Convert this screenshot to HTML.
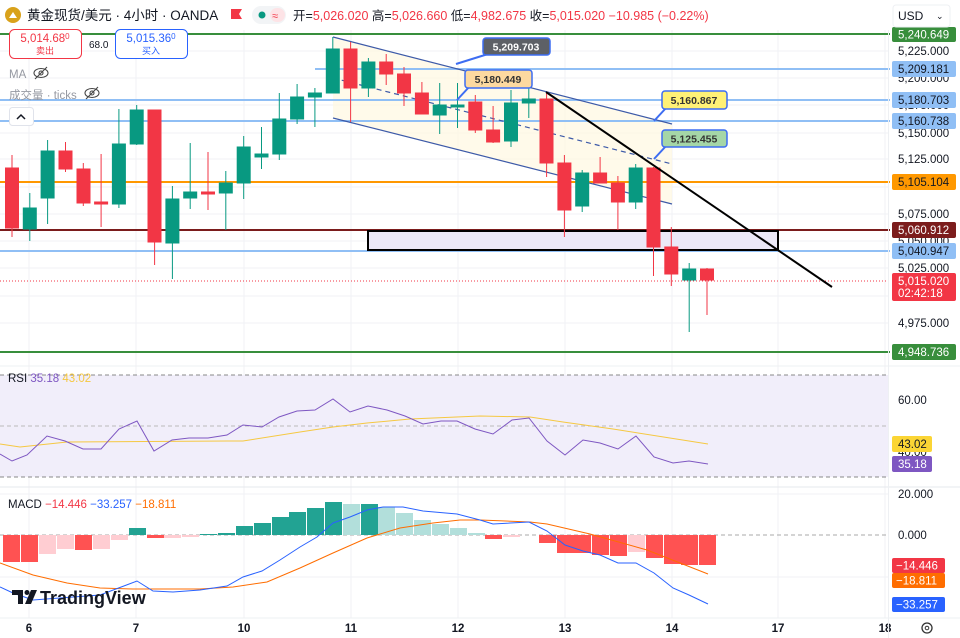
<!DOCTYPE html>
<html><head><meta charset="utf-8"><style>
body{margin:0;background:#fff;width:960px;height:638px;overflow:hidden;font-family:"Liberation Sans","Noto Sans CJK SC",sans-serif}
svg{display:block}
text{font-family:"Liberation Sans","Noto Sans CJK SC",sans-serif}
</style></head><body>
<svg width="960" height="638" viewBox="0 0 960 638" xmlns="http://www.w3.org/2000/svg">
<!-- grid -->
<g stroke="#f0f2f5" stroke-width="1">
<line x1="29" y1="30" x2="29" y2="618"/><line x1="136" y1="30" x2="136" y2="618"/><line x1="244" y1="30" x2="244" y2="618"/><line x1="351" y1="30" x2="351" y2="618"/><line x1="458" y1="30" x2="458" y2="618"/><line x1="565" y1="30" x2="565" y2="618"/><line x1="672" y1="30" x2="672" y2="618"/><line x1="778" y1="30" x2="778" y2="618"/><line x1="885" y1="30" x2="885" y2="618"/>
<line x1="0" y1="51" x2="888" y2="51"/><line x1="0" y1="78" x2="888" y2="78"/><line x1="0" y1="105" x2="888" y2="105"/><line x1="0" y1="133" x2="888" y2="133"/><line x1="0" y1="159" x2="888" y2="159"/><line x1="0" y1="187" x2="888" y2="187"/><line x1="0" y1="214" x2="888" y2="214"/><line x1="0" y1="241" x2="888" y2="241"/><line x1="0" y1="268" x2="888" y2="268"/><line x1="0" y1="296" x2="888" y2="296"/><line x1="0" y1="323" x2="888" y2="323"/>
<line x1="0" y1="400" x2="888" y2="400"/><line x1="0" y1="452" x2="888" y2="452"/><line x1="0" y1="494" x2="888" y2="494"/><line x1="0" y1="577" x2="888" y2="577"/>
</g>
<!-- channel fill -->
<polygon points="333,37 672,124 672,204 333,118" fill="#fff8e1" opacity="0.7"/>
<!-- horizontal levels -->
<line x1="0" y1="34" x2="890" y2="34" stroke="#388e3c" stroke-width="2"/>
<line x1="315" y1="69" x2="890" y2="69" stroke="#90bff5" stroke-width="2"/>
<line x1="0" y1="100" x2="890" y2="100" stroke="#90bff5" stroke-width="2"/>
<line x1="0" y1="121" x2="890" y2="121" stroke="#90bff5" stroke-width="2"/>
<line x1="0" y1="182" x2="890" y2="182" stroke="#ff9800" stroke-width="2"/>
<line x1="0" y1="230" x2="890" y2="230" stroke="#7b1c1c" stroke-width="2"/>
<line x1="0" y1="251" x2="890" y2="251" stroke="#90bff5" stroke-width="2"/>
<line x1="0" y1="281" x2="890" y2="281" stroke="#f23645" stroke-width="1" stroke-dasharray="1,2"/>
<line x1="0" y1="352" x2="890" y2="352" stroke="#388e3c" stroke-width="2"/>
<!-- rectangle -->
<rect x="368" y="231" width="410" height="19" fill="#ebe8f7" stroke="#000" stroke-width="2"/>
<!-- channel lines -->
<line x1="333" y1="37" x2="672" y2="124" stroke="#3d5aa8" stroke-width="1.2"/>
<line x1="333" y1="118" x2="672" y2="204" stroke="#3d5aa8" stroke-width="1.2"/>
<line x1="333" y1="78" x2="672" y2="164" stroke="#3d5aa8" stroke-width="1.2" stroke-dasharray="5,4"/>
<!-- candles -->
<g stroke-width="1">
<g fill="#f23645" stroke="#f23645">
<line x1="12" y1="155" x2="12" y2="237"/><rect x="5.5" y="168" width="13" height="60"/>
<line x1="65.5" y1="142" x2="65.5" y2="172"/><rect x="59" y="151" width="13" height="18"/>
<line x1="83.3" y1="163" x2="83.3" y2="206"/><rect x="77" y="169" width="13" height="34"/>
<line x1="101.1" y1="154" x2="101.1" y2="227"/><rect x="94.6" y="202" width="13" height="2"/>
<line x1="154.6" y1="110" x2="154.6" y2="265"/><rect x="148" y="110" width="13" height="132"/>
<line x1="208" y1="152" x2="208" y2="210"/><rect x="201.5" y="192" width="13" height="2"/>
<line x1="350.6" y1="42" x2="350.6" y2="122"/><rect x="344" y="49" width="13" height="39"/>
<line x1="386.2" y1="54" x2="386.2" y2="85"/><rect x="379.7" y="62" width="13" height="12"/>
<line x1="404" y1="67" x2="404" y2="106"/><rect x="397.5" y="74" width="13" height="19"/>
<line x1="421.9" y1="82" x2="421.9" y2="114"/><rect x="415.4" y="93" width="13" height="21"/>
<line x1="475.3" y1="95" x2="475.3" y2="133"/><rect x="468.8" y="102" width="13" height="28"/>
<line x1="493.1" y1="106" x2="493.1" y2="143"/><rect x="486.6" y="130" width="13" height="12"/>
<line x1="546.6" y1="92" x2="546.6" y2="177"/><rect x="540" y="99" width="13" height="64"/>
<line x1="564.4" y1="155" x2="564.4" y2="237"/><rect x="557.9" y="163" width="13" height="47"/>
<line x1="600.1" y1="157" x2="600.1" y2="183"/><rect x="593.6" y="173" width="13" height="10"/>
<line x1="617.9" y1="176" x2="617.9" y2="230"/><rect x="611.4" y="183" width="13" height="19"/>
<line x1="653.5" y1="167" x2="653.5" y2="276"/><rect x="647" y="168" width="13" height="79"/>
<line x1="671.3" y1="227" x2="671.3" y2="286"/><rect x="664.8" y="247" width="13" height="27"/>
<line x1="707" y1="268" x2="707" y2="315"/><rect x="700.5" y="269" width="13" height="11"/>
</g>
<g fill="#089981" stroke="#089981">
<line x1="29.8" y1="193" x2="29.8" y2="241"/><rect x="23.3" y="208" width="13" height="21"/>
<line x1="47.6" y1="140" x2="47.6" y2="224"/><rect x="41.1" y="151" width="13" height="47"/>
<line x1="118.9" y1="109" x2="118.9" y2="208"/><rect x="112.4" y="144" width="13" height="60"/>
<line x1="136.7" y1="105" x2="136.7" y2="145"/><rect x="130.2" y="110" width="13" height="34"/>
<line x1="172.4" y1="186" x2="172.4" y2="279"/><rect x="165.9" y="199" width="13" height="44"/>
<line x1="190.2" y1="143" x2="190.2" y2="209"/><rect x="183.7" y="192" width="13" height="6"/>
<line x1="225.8" y1="171" x2="225.8" y2="230"/><rect x="219.3" y="183" width="13" height="10"/>
<line x1="243.7" y1="136" x2="243.7" y2="199"/><rect x="237.2" y="147" width="13" height="36"/>
<line x1="261.5" y1="127" x2="261.5" y2="169"/><rect x="255" y="154" width="13" height="3"/>
<line x1="279.3" y1="93" x2="279.3" y2="160"/><rect x="272.8" y="119" width="13" height="35"/>
<line x1="297.1" y1="84" x2="297.1" y2="124"/><rect x="290.6" y="97" width="13" height="22"/>
<line x1="314.9" y1="88" x2="314.9" y2="127"/><rect x="308.4" y="93" width="13" height="4"/>
<line x1="332.8" y1="37" x2="332.8" y2="93"/><rect x="326.3" y="49" width="13" height="44"/>
<line x1="368.4" y1="58" x2="368.4" y2="97"/><rect x="361.9" y="62" width="13" height="26"/>
<line x1="439.7" y1="83" x2="439.7" y2="134"/><rect x="433.2" y="105" width="13" height="10"/>
<line x1="457.5" y1="83" x2="457.5" y2="128"/><rect x="451" y="105" width="13" height="2"/>
<line x1="511" y1="90" x2="511" y2="147"/><rect x="504.5" y="103" width="13" height="38"/>
<line x1="528.8" y1="87" x2="528.8" y2="118"/><rect x="522.3" y="99" width="13" height="4"/>
<line x1="582.2" y1="170" x2="582.2" y2="212"/><rect x="575.7" y="173" width="13" height="33"/>
<line x1="635.7" y1="164" x2="635.7" y2="209"/><rect x="629.2" y="168" width="13" height="34"/>
<line x1="689.2" y1="263" x2="689.2" y2="332"/><rect x="682.7" y="269" width="13" height="11"/>
</g>
</g>
<!-- black trend line -->
<line x1="546" y1="92" x2="832" y2="287" stroke="#000" stroke-width="2"/>
<!-- callouts -->
<g font-size="10.5" font-weight="bold" text-anchor="middle">
<path d="M488,54 L456,64" stroke="#3d6df2" stroke-width="2"/>
<rect x="483" y="38" width="67" height="17" rx="3" fill="#5d6066" stroke="#3d6df2" stroke-width="1.5"/>
<text x="516" y="50.5" fill="#fff">5,209.703</text>
<path d="M470,86 L457,100" stroke="#3d6df2" stroke-width="2"/>
<rect x="465" y="70" width="67" height="18" rx="3" fill="#fcd9a0" stroke="#3d6df2" stroke-width="1.5"/>
<text x="498" y="83" fill="#333">5,180.449</text>
<path d="M666,108 L654,121" stroke="#3d6df2" stroke-width="2"/>
<rect x="662" y="91" width="65" height="18" rx="3" fill="#fff176" stroke="#3d6df2" stroke-width="1.5"/>
<text x="694" y="104" fill="#333">5,160.867</text>
<path d="M666,146 L654,159" stroke="#3d6df2" stroke-width="2"/>
<rect x="662" y="130" width="65" height="17" rx="3" fill="#a5d6a7" stroke="#3d6df2" stroke-width="1.5"/>
<text x="694" y="142.5" fill="#333">5,125.455</text>
</g>
<!-- RSI panel -->
<line x1="0" y1="366" x2="960" y2="366" stroke="#eef0f3"/>
<rect x="0" y="375" width="888" height="102" fill="#f1eefa"/>
<line x1="0" y1="375" x2="888" y2="375" stroke="#888" stroke-dasharray="4,3"/>
<line x1="0" y1="426" x2="888" y2="426" stroke="#bbb" stroke-dasharray="4,3"/>
<line x1="0" y1="477" x2="888" y2="477" stroke="#888" stroke-dasharray="4,3"/>
<polyline fill="none" stroke="#f5c842" stroke-width="1" points="0,444 20,447 67,442 227,441 243,441 300,432 333,427 367,423 410,419 480,416 530,417 563,422 613,429 708,444"/>
<polyline fill="none" stroke="#7e57c2" stroke-width="1" points="0,454 12,461 27,455 47,436 65,441 83,449 101,449 119,429 137,421 154,451 172,440 189,438 208,438 227,435 243,425 262,427 279,417 297,411 315,410 333,399 350,412 368,406 387,410 405,416 423,424 441,421 457,421 475,429 493,434 512,420 529,418 547,441 565,455 583,440 600,443 618,449 636,436 654,457 673,463 689,461 708,464"/>
<line x1="0" y1="487" x2="960" y2="487" stroke="#e6e8ec"/>
<!-- MACD -->
<line x1="0" y1="535" x2="888" y2="535" stroke="#aaa" stroke-dasharray="4,3"/>
<g>
<rect x="3" y="535" width="17" height="27" fill="#ff5252"/>
<rect x="21" y="535" width="17" height="27" fill="#ff5252"/>
<rect x="39" y="535" width="17" height="19" fill="#ffcdd2"/>
<rect x="57" y="535" width="17" height="14" fill="#ffcdd2"/>
<rect x="75" y="535" width="17" height="15" fill="#ff5252"/>
<rect x="93" y="535" width="17" height="14" fill="#ffcdd2"/>
<rect x="111" y="535" width="17" height="5" fill="#ffcdd2"/>
<rect x="129" y="528" width="17" height="7" fill="#22a393"/>
<rect x="147" y="535" width="17" height="3" fill="#ff5252"/>
<rect x="164" y="535" width="17" height="3" fill="#ffcdd2"/>
<rect x="182" y="535" width="17" height="2" fill="#ffcdd2"/>
<rect x="200" y="534" width="17" height="1" fill="#22a393"/>
<rect x="218" y="533" width="17" height="2" fill="#22a393"/>
<rect x="236" y="526" width="17" height="9" fill="#22a393"/>
<rect x="254" y="523" width="17" height="12" fill="#22a393"/>
<rect x="272" y="517" width="17" height="18" fill="#22a393"/>
<rect x="289" y="512" width="17" height="23" fill="#22a393"/>
<rect x="307" y="508" width="17" height="27" fill="#22a393"/>
<rect x="325" y="502" width="17" height="33" fill="#22a393"/>
<rect x="343" y="504" width="17" height="31" fill="#b2dfdb"/>
<rect x="361" y="504" width="17" height="31" fill="#22a393"/>
<rect x="378" y="507" width="17" height="28" fill="#b2dfdb"/>
<rect x="396" y="513" width="17" height="22" fill="#b2dfdb"/>
<rect x="414" y="520" width="17" height="15" fill="#b2dfdb"/>
<rect x="432" y="524" width="17" height="11" fill="#b2dfdb"/>
<rect x="450" y="528" width="17" height="7" fill="#b2dfdb"/>
<rect x="468" y="533" width="17" height="2" fill="#b2dfdb"/>
<rect x="485" y="535" width="17" height="4" fill="#ff5252"/>
<rect x="503" y="535" width="17" height="2" fill="#ffcdd2"/>
<rect x="539" y="535" width="17" height="8" fill="#ff5252"/>
<rect x="557" y="535" width="17" height="18" fill="#ff5252"/>
<rect x="574" y="535" width="17" height="18" fill="#ff5252"/>
<rect x="592" y="535" width="17" height="20" fill="#ff5252"/>
<rect x="610" y="535" width="17" height="21" fill="#ff5252"/>
<rect x="628" y="535" width="17" height="17" fill="#ffcdd2"/>
<rect x="646" y="535" width="17" height="23" fill="#ff5252"/>
<rect x="664" y="535" width="17" height="29" fill="#ff5252"/>
<rect x="681" y="535" width="17" height="30" fill="#ff5252"/>
<rect x="699" y="535" width="17" height="30" fill="#ff5252"/>
</g>
<polyline fill="none" stroke="#ff6d00" stroke-width="1" points="0,563 33,575 67,583 100,588 133,589 200,589 233,587 267,582 300,568 333,553 367,538 400,528 433,523 460,520 480,520 530,522 547,524 590,534 647,550 708,574"/>
<polyline fill="none" stroke="#2962ff" stroke-width="1" points="0,587 13,593 33,600 100,595 137,581 153,591 173,592 200,590 227,586 243,577 262,571 280,560 300,547 317,537 333,523 350,517 367,510 383,507 403,507 423,511 457,514 480,520 493,524 529,522 547,531 565,545 583,551 600,555 618,563 636,563 654,573 673,588 689,595 708,604"/>
<!-- TradingView logo -->
<g fill="#131722">
<path d="M12,590 h11 v14 h-5 v-9 h-6 z"/>
<circle cx="27" cy="592.5" r="2.5"/>
<path d="M31,590 h6 l-6,14 h-6 z"/>
</g>
<text x="40" y="604" font-size="18" font-weight="bold" fill="#131722">TradingView</text>
<!-- x axis -->
<line x1="0" y1="618" x2="960" y2="618" stroke="#eef0f3"/>
<g font-size="11.5" fill="#131722" text-anchor="middle" font-weight="bold">
<text x="29" y="632">6</text><text x="136" y="632">7</text><text x="244" y="632">10</text><text x="351" y="632">11</text><text x="458" y="632">12</text><text x="565" y="632">13</text><text x="672" y="632">14</text><text x="778" y="632">17</text><text x="885" y="632">18</text>
</g>
<circle cx="927" cy="628" r="5" fill="none" stroke="#333" stroke-width="1.3"/><circle cx="927" cy="628" r="1.8" fill="none" stroke="#333"/>
<!-- right axis -->
<line x1="888.5" y1="30" x2="888.5" y2="638" stroke="#eef0f3"/>
<g font-size="11.5" fill="#131722">
<text x="898" y="55">5,225.000</text><text x="898" y="82">5,200.000</text><text x="898" y="109">5,175.000</text><text x="898" y="137">5,150.000</text><text x="898" y="163">5,125.000</text><text x="898" y="218">5,075.000</text><text x="898" y="245">5,050.000</text><text x="898" y="272">5,025.000</text><text x="898" y="327">4,975.000</text>
<text x="898" y="404">60.00</text><text x="898" y="456">40.00</text><text x="898" y="498">20.000</text><text x="898" y="539">0.000</text>
</g>
<g font-size="11.5">
<rect x="892" y="27" width="64" height="15" rx="2" fill="#388e3c"/><text x="898" y="38.5" fill="#fff">5,240.649</text>
<rect x="892" y="61" width="64" height="16" rx="2" fill="#90bff5"/><text x="898" y="73" fill="#131722">5,209.181</text>
<rect x="892" y="92" width="64" height="16" rx="2" fill="#90bff5"/><text x="898" y="104" fill="#131722">5,180.703</text>
<rect x="892" y="113" width="64" height="16" rx="2" fill="#90bff5"/><text x="898" y="125" fill="#131722">5,160.738</text>
<rect x="892" y="174" width="64" height="16" rx="2" fill="#ff9800"/><text x="898" y="186" fill="#131722">5,105.104</text>
<rect x="892" y="222" width="64" height="16" rx="2" fill="#7b1c1c"/><text x="898" y="234" fill="#fff">5,060.912</text>
<rect x="892" y="243" width="64" height="16" rx="2" fill="#90bff5"/><text x="898" y="255" fill="#131722">5,040.947</text>
<rect x="892" y="273" width="64" height="28" rx="2" fill="#f23645"/><text x="898" y="285" fill="#fff">5,015.020</text><text x="898" y="297" fill="#fff">02:42:18</text>
<rect x="892" y="344" width="64" height="16" rx="2" fill="#388e3c"/><text x="898" y="356" fill="#fff">4,948.736</text>
<rect x="892" y="436" width="40" height="16" rx="2" fill="#fbd535"/><text x="898" y="448" fill="#131722">43.02</text>
<rect x="892" y="456" width="40" height="16" rx="2" fill="#7e57c2"/><text x="898" y="468" fill="#fff">35.18</text>
<rect x="892" y="558" width="53" height="15" rx="2" fill="#f23645"/><text x="896" y="569.5" fill="#fff">−14.446</text>
<rect x="892" y="573" width="53" height="15" rx="2" fill="#ff6d00"/><text x="896" y="584.5" fill="#fff">−18.811</text>
<rect x="892" y="597" width="53" height="15" rx="2" fill="#2962ff"/><text x="896" y="608.5" fill="#fff">−33.257</text>
</g>
<!-- header -->
<rect x="0" y="0" width="888" height="28" fill="#fff"/>
<circle cx="13" cy="15" r="8" fill="#d9a21b"/><path d="M9,18 l4,-6 l4,6 z" fill="#fff"/>
<text x="27" y="20" font-size="13.5" fill="#131722">黄金现货/美元 · 4小时 · OANDA</text>
<path d="M231,9 h11 l-3,5 l3,5 h-11 z" fill="#f23645"/>
<rect x="252" y="6" width="34" height="18" rx="9" fill="#f2f4f6"/>
<circle cx="262" cy="15" r="3.5" fill="#089981"/>
<rect x="270" y="8" width="15" height="14" rx="7" fill="#fde3e6"/><text x="272" y="19.5" font-size="11" fill="#f23645">≈</text>
<text x="293" y="20" font-size="12.5" fill="#131722">开=<tspan fill="#f23645">5,026.020</tspan> 高=<tspan fill="#f23645">5,026.660</tspan> 低=<tspan fill="#f23645">4,982.675</tspan> 收=<tspan fill="#f23645">5,015.020</tspan> <tspan fill="#f23645">−10.985 (−0.22%)</tspan></text>
<rect x="893" y="5" width="57" height="22" rx="3" fill="#fff" stroke="#eef0f3"/>
<text x="898" y="20" font-size="12" fill="#131722">USD</text><text x="936" y="19" font-size="9" fill="#131722">⌄</text>
<!-- buy/sell -->
<rect x="9.5" y="29.5" width="72" height="29" rx="5" fill="#fff" stroke="#f23645"/>
<text x="45" y="42" font-size="11.5" fill="#f23645" text-anchor="middle">5,014.68<tspan font-size="8" dy="-3">0</tspan></text>
<text x="45" y="54" font-size="9" fill="#f23645" text-anchor="middle">卖出</text>
<text x="89" y="48" font-size="10" fill="#131722">68.0</text>
<rect x="115.5" y="29.5" width="72" height="29" rx="5" fill="#fff" stroke="#2962ff"/>
<text x="151" y="42" font-size="11.5" fill="#2962ff" text-anchor="middle">5,015.36<tspan font-size="8" dy="-3">0</tspan></text>
<text x="151" y="54" font-size="9" fill="#2962ff" text-anchor="middle">买入</text>
<text x="9" y="78" font-size="11.5" fill="#9598a1">MA</text>
<g fill="none" stroke="#444" stroke-width="1.1"><ellipse cx="41" cy="73" rx="7" ry="4.5"/><circle cx="41" cy="73" r="2"/><line x1="35" y1="79" x2="47" y2="67"/></g>
<text x="9" y="99" font-size="11.5" fill="#9598a1">成交量 · ticks</text>
<g fill="none" stroke="#444" stroke-width="1.1"><ellipse cx="92" cy="93" rx="7" ry="4.5"/><circle cx="92" cy="93" r="2"/><line x1="86" y1="99" x2="98" y2="87"/></g>
<rect x="9.5" y="107.5" width="24" height="18" rx="3" fill="#fff" stroke="#e0e3eb"/>
<path d="M17,119 l4,-4 l4,4" fill="none" stroke="#131722" stroke-width="1.5"/>
<text x="8" y="382" font-size="11.5" fill="#131722">RSI <tspan fill="#7e57c2">35.18</tspan> <tspan fill="#f5c842">43.02</tspan></text>
<text x="8" y="508" font-size="11.5" fill="#131722">MACD <tspan fill="#f23645">−14.446</tspan> <tspan fill="#2962ff">−33.257</tspan> <tspan fill="#ff6d00">−18.811</tspan></text>
</svg>
</body></html>
